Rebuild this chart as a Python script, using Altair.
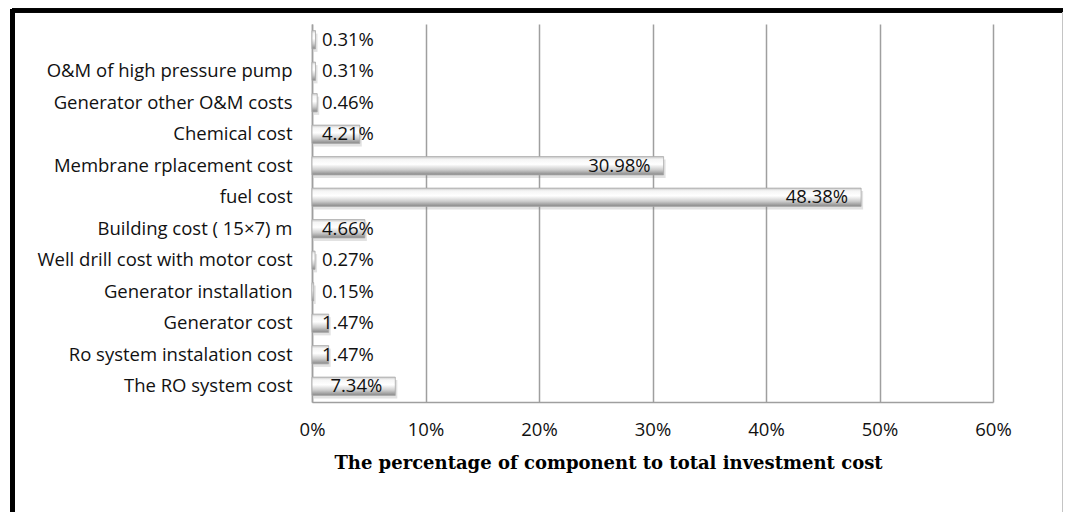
import altair as alt
import pandas as pd

# Cost components of the RO plant, listed top to bottom
components = [
    "",
    "O&M of high pressure pump",
    "Generator other O&M costs ",
    "Chemical cost",
    "Membrane rplacement cost ",
    "fuel cost",
    "Building cost ( 15×7) m",
    "Well drill cost with motor cost",
    "Generator  installation ",
    "Generator cost",
    "Ro system instalation cost",
    "The RO system cost",
]
# Share of total investment cost, in percent
shares = [0.31, 0.31, 0.46, 4.21, 30.98, 48.38, 4.66, 0.27, 0.15, 1.47, 1.47, 7.34]
x_ticks = [0, 10, 20, 30, 40, 50, 60]

df = pd.DataFrame({"component": components, "share": shares})
df["label"] = [f"{v:.2f}%" for v in shares]

FONT = "Open Sans"
FS = 18.5
GRID = "#9f9f9f"

y_enc = alt.Y(
    "component:N",
    sort=components,
    scale=alt.Scale(paddingInner=0.42, paddingOuter=0.21),
    axis=alt.Axis(
        title=None,
        ticks=False,
        domain=True,
        domainColor=GRID,
        domainWidth=1.5,
        labelPadding=20,
        labelFont=FONT,
        labelFontSize=FS,
        labelColor="#111111",
        labelLimit=400,
    ),
)

x_scale = alt.Scale(domain=[0, 60], nice=False)

# Soft drop shadow under each bar
shadow = alt.Chart(df).mark_bar(color="#7a7a7a", opacity=0.22, yOffset=3, xOffset=2).encode(
    x=alt.X("share:Q", scale=x_scale), y=alt.Y("component:N", sort=components)
)

bars = alt.Chart(df).mark_bar(
    fill=alt.Gradient(
        gradient="linear",
        x1=0, x2=0, y1=0, y2=1,
        stops=[
            alt.GradientStop(color="#c9c9c9", offset=0),
            alt.GradientStop(color="#f5f5f5", offset=0.15),
            alt.GradientStop(color="#ffffff", offset=0.42),
            alt.GradientStop(color="#cdcdcd", offset=0.72),
            alt.GradientStop(color="#888888", offset=1),
        ],
    ),
    stroke="#a8a8a8",
    strokeWidth=0.8,
).encode(
    x=alt.X(
        "share:Q",
        scale=x_scale,
        axis=alt.Axis(
            values=x_ticks,
            labelExpr="datum.value + '%'",
            labelFlush=False,
            grid=True,
            gridColor=GRID,
            gridWidth=1.5,
            ticks=False,
            domain=True,
            domainColor=GRID,
            domainWidth=1.5,
            labelPadding=18,
            labelFont=FONT,
            labelFontSize=FS,
            labelColor="#111111",
            title="The  percentage of component to total investment cost",
            titleFont="DejaVu Serif",
            titleFontWeight="bold",
            titleFontSize=18,
            titleColor="#000000",
            titlePadding=16,
            titleX=296,
            titleAlign="center",
        ),
    ),
    y=y_enc,
)

# Large bars carry their value inside the bar end, small ones next to the axis
inside = alt.Chart(df).transform_filter("datum.share >= 5").mark_text(
    align="right", baseline="middle", dx=-13, font=FONT, fontSize=FS, color="#111111"
).encode(x=alt.X("share:Q", scale=x_scale), y=alt.Y("component:N", sort=components), text="label:N")

near_axis = alt.Chart(df).transform_filter("datum.share < 5").transform_calculate(
    zero="0"
).mark_text(
    align="left", baseline="middle", dx=10, font=FONT, fontSize=FS, color="#111111"
).encode(x=alt.X("zero:Q", scale=x_scale), y=alt.Y("component:N", sort=components), text="label:N")

# Frame around the chart area: heavy black top and left edges, thin grey right edge
frame_top = alt.Chart(df).mark_rule(color="#000000", strokeWidth=3.5).encode(
    x=alt.value(-300), x2=alt.value(751), y=alt.value(-13.5)
)
frame_left = alt.Chart(df).mark_rule(color="#000000", strokeWidth=5).encode(
    x=alt.value(-299.5), y=alt.value(-15), y2=alt.value(490)
)
frame_right = alt.Chart(df).mark_rule(color="#c4c4c4", strokeWidth=1).encode(
    x=alt.value(750.5), y=alt.value(-12), y2=alt.value(490)
)

chart = (
    alt.layer(shadow, bars, inside, near_axis, frame_top, frame_left, frame_right)
    .properties(
        width=681,
        height=378,
        autosize=alt.AutoSizeParams(type="none"),
        padding={"left": 312, "top": 24, "right": 73, "bottom": 110},
        background="#ffffff",
    )
    .configure_view(stroke=None)
)

chart.save("out.html", embed_options={"renderer": "svg", "actions": False})
